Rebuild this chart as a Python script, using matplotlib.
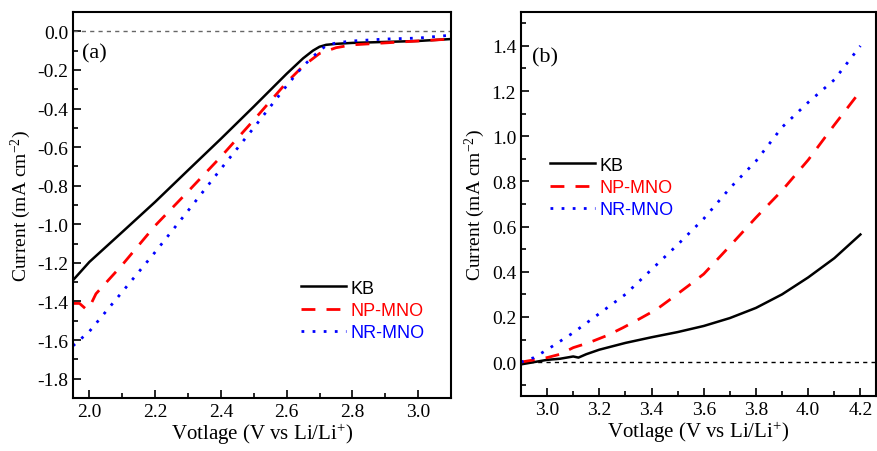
import matplotlib.pyplot as plt
from matplotlib.ticker import MultipleLocator

plt.rcParams['font.family'] = 'Liberation Serif'
plt.rcParams['mathtext.fontset'] = 'custom'
plt.rcParams['mathtext.rm'] = 'Liberation Serif'
plt.rcParams['mathtext.it'] = 'Liberation Serif:italic'

# panel (a): discharge (ORR) sweep
v_kb_a = [1.95, 2.0, 2.1, 2.2, 2.3, 2.4, 2.5, 2.6, 2.65, 2.68, 2.7, 2.72, 2.75, 2.8, 2.9, 3.0, 3.1]
i_kb_a = [-1.29, -1.195, -1.04, -0.884, -0.72, -0.557, -0.39, -0.22, -0.14, -0.10, -0.08,
          -0.07, -0.065, -0.06, -0.055, -0.05, -0.04]
v_np_a = [1.95, 1.97, 1.99, 2.0, 2.02, 2.1, 2.2, 2.3, 2.4, 2.5, 2.6, 2.65, 2.7, 2.75, 2.8, 2.9, 3.0, 3.1]
i_np_a = [-1.41, -1.41, -1.44, -1.43, -1.36, -1.21, -1.007, -0.83, -0.65, -0.46, -0.265, -0.18,
          -0.115, -0.085, -0.07, -0.06, -0.05, -0.04]
v_nr_a = [1.95, 2.0, 2.1, 2.2, 2.3, 2.4, 2.5, 2.6, 2.65, 2.7, 2.72, 2.75, 2.8, 2.9, 3.0, 3.1]
i_nr_a = [-1.63, -1.555, -1.35, -1.144, -0.93, -0.713, -0.50, -0.282, -0.18, -0.10, -0.075,
          -0.06, -0.05, -0.04, -0.035, -0.02]

# panel (b): charge (OER) sweep
v_kb_b = [2.9, 2.95, 3.0, 3.05, 3.1, 3.12, 3.15, 3.2, 3.3, 3.4, 3.5, 3.6, 3.7, 3.8, 3.9, 4.0, 4.1, 4.2]
i_kb_b = [-0.01, 0.0, 0.01, 0.015, 0.025, 0.02, 0.035, 0.055, 0.085, 0.11, 0.133, 0.16, 0.195,
          0.24, 0.30, 0.375, 0.46, 0.565]
v_np_b = [2.9, 2.95, 3.0, 3.05, 3.1, 3.16, 3.23, 3.29, 3.35, 3.42, 3.48, 3.54, 3.6, 3.7, 3.8,
          3.9, 4.0, 4.1, 4.2]
i_np_b = [0.0, 0.01, 0.02, 0.035, 0.064, 0.086, 0.118, 0.152, 0.189, 0.234, 0.285, 0.337, 0.39,
          0.514, 0.64, 0.76, 0.895, 1.05, 1.2]
v_nr_b = [2.9, 2.95, 3.0, 3.1, 3.2, 3.3, 3.4, 3.5, 3.6, 3.7, 3.8, 3.9, 4.0, 4.1, 4.2]
i_nr_b = [0.0, 0.02, 0.055, 0.13, 0.215, 0.30, 0.41, 0.52, 0.635, 0.77, 0.89, 1.04, 1.15, 1.25, 1.4]

labels = ['KB', 'NP-MNO', 'NR-MNO']

fig = plt.figure(figsize=(8.78, 4.52), dpi=100)
ax1 = fig.add_axes([0.0831, 0.1173, 0.4306, 0.8539])
ax2 = fig.add_axes([0.5934, 0.1217, 0.4044, 0.8495])


def style(ax):
    for s in ax.spines.values():
        s.set_linewidth(1.5)
    ax.tick_params(which='both', direction='in', top=False, right=False, width=1.2,
                   labelsize=14)
    ax.tick_params(which='major', length=6)
    ax.tick_params(which='minor', length=3.5)
    ax.set_xlabel('Votlage (V vs Li/Li$^{+}$)', fontsize=15, labelpad=1)
    ax.set_ylabel('Current (mA cm$^{-2}$)', fontsize=14, labelpad=3)


ax1.axhline(0, color='#666666', ls=(0, (3, 3)), lw=1)
ax1.plot(v_kb_a, i_kb_a, color='black', lw=1.8, label=labels[0])
ax1.plot(v_np_a, i_np_a, color='red', lw=2, ls=(0, (5, 4)), label=labels[1])
ax1.plot(v_nr_a, i_nr_a, color='blue', lw=2, ls=(0, (1, 3)), label=labels[2])
ax1.set_xlim(1.95, 3.1)
ax1.set_ylim(-1.9, 0.1)
ax1.xaxis.set_major_locator(MultipleLocator(0.2))
ax1.xaxis.set_minor_locator(MultipleLocator(0.1))
ax1.yaxis.set_major_locator(MultipleLocator(0.2))
ax1.yaxis.set_minor_locator(MultipleLocator(0.1))
ax1.xaxis.set_major_formatter(lambda v, p: f'{v:.1f}')
ax1.yaxis.set_major_formatter(lambda v, p: f'{v:.1f}')
style(ax1)
ax1.text(0.024, 0.895, '(a)', transform=ax1.transAxes, fontsize=16, va='center')
leg1 = ax1.legend(loc='upper left', bbox_to_anchor=(0.58, 0.33), frameon=False,
                  prop={'family': 'Liberation Sans', 'size': 13}, handlelength=2.5,
                  handletextpad=0.25, labelspacing=0.3, borderpad=0)
for t, c in zip(leg1.get_texts(), ['black', 'red', 'blue']):
    t.set_color(c)

ax2.axhline(0, color='black', ls=(0, (3, 3)), lw=1)
ax2.plot(v_kb_b, i_kb_b, color='black', lw=1.8, label=labels[0])
ax2.plot(v_np_b, i_np_b, color='red', lw=2, ls=(0, (5, 4)), label=labels[1])
ax2.plot(v_nr_b, i_nr_b, color='blue', lw=2, ls=(0, (1, 3)), label=labels[2])
ax2.set_xlim(2.9, 4.26)
ax2.set_ylim(-0.15, 1.55)
ax2.xaxis.set_major_locator(MultipleLocator(0.2))
ax2.xaxis.set_minor_locator(MultipleLocator(0.1))
ax2.yaxis.set_major_locator(MultipleLocator(0.2))
ax2.yaxis.set_minor_locator(MultipleLocator(0.1))
ax2.xaxis.set_major_formatter(lambda v, p: f'{v:.1f}')
ax2.yaxis.set_major_formatter(lambda v, p: f'{v:.1f}')
style(ax2)
ax2.text(0.031, 0.883, '(b)', transform=ax2.transAxes, fontsize=16, va='center')
leg2 = ax2.legend(loc='upper left', bbox_to_anchor=(0.055, 0.647), frameon=False,
                  prop={'family': 'Liberation Sans', 'size': 13}, handlelength=2.5,
                  handletextpad=0.25, labelspacing=0.3, borderpad=0)
for t, c in zip(leg2.get_texts(), ['black', 'red', 'blue']):
    t.set_color(c)

fig.savefig('out.png', dpi=100)
